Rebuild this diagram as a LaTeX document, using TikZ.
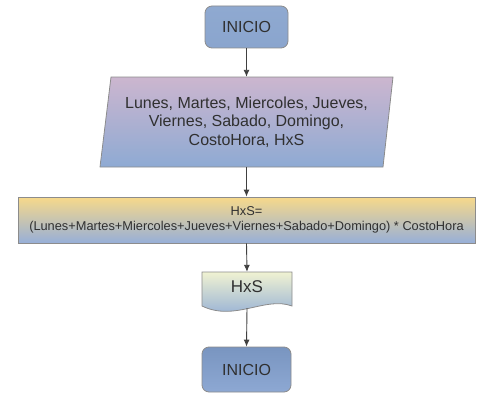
\documentclass[tikz,border=0pt]{standalone}
\usepackage{fontspec}
\setmainfont{Liberation Sans}
\usetikzlibrary{arrows.meta}
\definecolor{edge}{HTML}{8C8C8C}
\definecolor{conn}{HTML}{404040}
\definecolor{txt}{HTML}{303030}
\definecolor{termtop}{HTML}{8FA9D0}
\definecolor{termbot}{HTML}{8AA5CE}
\definecolor{term2top}{HTML}{7995C0}
\definecolor{term2bot}{HTML}{8DA8D3}
\definecolor{iotop}{HTML}{CCB6CF}
\definecolor{iobot}{HTML}{8EAAD3}
\definecolor{proctop}{HTML}{F7D98A}
\definecolor{procbot}{HTML}{97AFD8}
\definecolor{doctop}{HTML}{F0F2D2}
\definecolor{docbot}{HTML}{8AA8D6}
\tikzset{
  term/.style={draw=edge, line width=0.8pt, rounded corners=7pt, text=txt,
    font=\fontsize{16}{18}\selectfont, inner sep=0pt},
  hidden/.style={inner sep=0pt, text=txt},
  conn/.style={draw=conn, line width=0.9pt, -{Latex[length=7pt,width=6pt]}},
  shapeline/.style={draw=edge, line width=0.8pt}
}
\begin{document}
\begin{tikzpicture}[x=1pt,y=-1pt]
\useasboundingbox (0,0) rectangle (492,404);
% start terminal
\node[term, top color=termtop, bottom color=termbot, minimum width=83pt, minimum height=42pt] (start) at (246.5,27) {INICIO};
% input parallelogram
\shade[shapeline, top color=iotop, bottom color=iobot] (111,77) -- (393,77) -- (383,167) -- (100,167) -- cycle;
\node[hidden, minimum width=283pt, minimum height=90pt, align=center,
  font=\fontsize{16}{18.3}\selectfont] (input) at (246.5,122) {Lunes, Martes, Miercoles, Jueves,\\Viernes, Sabado, Domingo,\\CostoHora, HxS};
% process
\node[shapeline, top color=proctop, bottom color=procbot, minimum width=457pt, minimum height=46pt, inner sep=0pt, align=center, text=txt,
  font=\fontsize{12.8}{14.7}\selectfont] (proc) at (246.5,220) {HxS=\\(Lunes+Martes+Miercoles+Jueves+Viernes+Sabado+Domingo) * CostoHora};
% document
\shade[shapeline, top color=doctop, bottom color=docbot] (202,272) -- (292,272) -- (292,306) .. controls (265,296) and (235,322) .. (202,306) -- cycle;
\node[hidden, minimum width=90pt, minimum height=36pt] (doc) at (247,290) {};
\node[hidden, font=\fontsize{17}{19}\selectfont] (doctext) at (247,287) {HxS};
% end terminal
\node[term, top color=term2top, bottom color=term2bot, minimum width=89pt, minimum height=45pt] (stop) at (246.5,369.5) {INICIO};
% connectors
\draw[conn] (start.south) -- (input.north);
\draw[conn] (input.south) -- (proc.north);
\draw[conn] (proc.south) -- (doc.north);
\draw[conn] (doc.south) -- (stop.north);
\end{tikzpicture}
\end{document}
